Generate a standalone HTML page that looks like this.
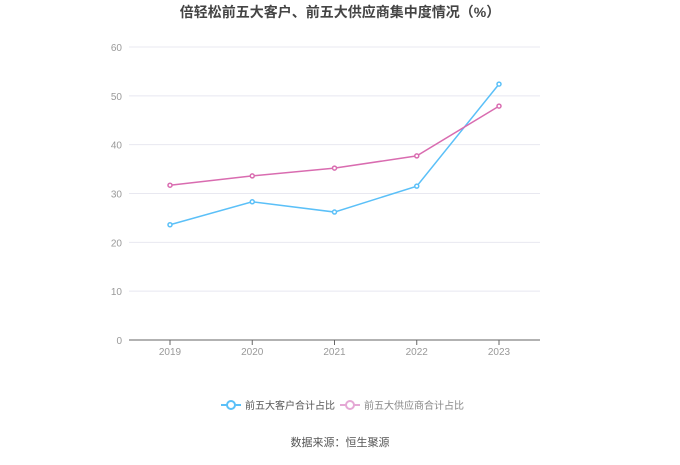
<!DOCTYPE html>
<html><head><meta charset="utf-8"><style>
body{margin:0;background:#fff;width:680px;height:460px;overflow:hidden;font-family:"Liberation Sans","Noto Sans CJK SC",sans-serif}
</style></head><body>
<svg width="680" height="460" id="c">
<text x="340" y="17" text-anchor="middle" font-size="14" font-weight="bold" fill="#444" font-family="Liberation Sans, Noto Sans CJK SC, sans-serif">倍轻松前五大客户、前五大供应商集中度情况（%）</text>
<g id="grid"></g><g id="series"></g>
<g font-size="10" fill="#555" font-family="Liberation Sans, Noto Sans CJK SC, sans-serif">
<g><line x1="221" y1="405" x2="241" y2="405" stroke="#5bc0f8" stroke-width="2"/><circle cx="231" cy="405" r="4" fill="#fff" stroke="#5bc0f8" stroke-width="2"/><text x="245" y="409">前五大客户合计占比</text></g>
<g><line x1="340" y1="405" x2="360" y2="405" stroke="#e5a8d5" stroke-width="2"/><circle cx="350" cy="405" r="4" fill="#fff" stroke="#e5a8d5" stroke-width="2"/><text x="364" y="409" fill="#888">前五大供应商合计占比</text></g>
</g>
<text x="340" y="446" text-anchor="middle" font-size="11" fill="#555" font-family="Liberation Sans, Noto Sans CJK SC, sans-serif">数据来源：恒生聚源</text>
</svg>
<script>
const categories=["2019","2020","2021","2022","2023"];
const customers=[23.6,28.3,26.2,31.5,52.4];
const suppliers=[31.7,33.6,35.2,37.7,47.9];
const yTicks=[0,10,20,30,40,50,60];
const NS="http://www.w3.org/2000/svg";
const L=129,R=540,T=47,B=340;
const x=i=>170+i*(499-170)/(categories.length-1);
const y=v=>B-v/60*(B-T);
function mk(t,a,p){const e=document.createElementNS(NS,t);for(const k in a)e.setAttribute(k,a[k]);p.appendChild(e);return e;}
const g=document.getElementById('grid'),s=document.getElementById('series');
yTicks.forEach(v=>{
 const ln=mk('line',{x1:L,x2:R,y1:y(v),y2:y(v),stroke:v===0?'#666':'#e8e8f0','stroke-width':1},g);
 
 
 const t=mk('text',{x:122,y:y(v)+4,'text-anchor':'end','font-size':10,fill:'#999'},g);t.textContent=v;
 
 
});
categories.forEach((c,i)=>{
 const tk=mk('line',{x1:x(i),x2:x(i),y1:B,y2:B+5,stroke:'#666'},g);
 
 
 const t=mk('text',{x:x(i),y:B+15,'text-anchor':'middle','font-size':10,fill:'#999'},g);t.textContent=c;
 
 
});
[[customers,'#5bc0f8','customers'],[suppliers,'#d96cb0','suppliers']].forEach(([d,col,n])=>{
 const p=mk('polyline',{points:d.map((v,i)=>x(i)+','+y(v)).join(' '),fill:'none',stroke:col,'stroke-width':1.5},s);
 
 
 d.forEach((v,i)=>{const c=mk('circle',{cx:x(i),cy:y(v),r:2,fill:'#fff',stroke:col,'stroke-width':1.5},s);
 
 });
});
</script>
</body></html>
